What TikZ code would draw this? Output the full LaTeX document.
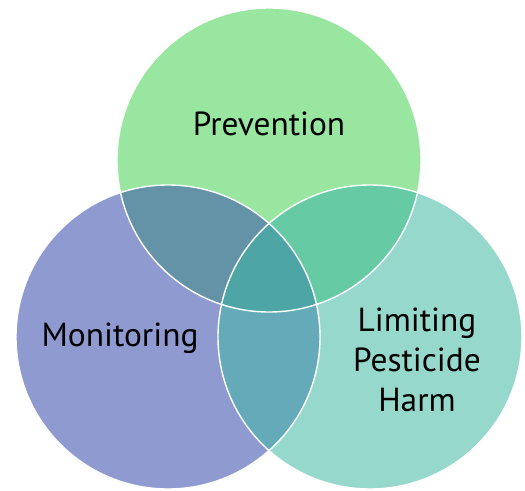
\documentclass[tikz,border=0pt]{standalone}
\usepackage{fontspec}
\setmainfont{PT Sans}

\definecolor{prevgreen}{HTML}{98E6A0}
\definecolor{monpurple}{HTML}{8F9BD0}
\definecolor{limteal}{HTML}{96D8CC}
\definecolor{pmblend}{HTML}{6492A6}
\definecolor{plblend}{HTML}{66CBA4}
\definecolor{mlblend}{HTML}{65AAB8}
\definecolor{allblend}{HTML}{4EA5A5}

\begin{document}
\begin{tikzpicture}[
    x=0.02cm,
    y=0.02cm,
    label/.style={
        inner sep=0pt,
        align=center,
        font=\fontsize{19}{22.7}\selectfont,
    },
    rim/.style={
        draw=white,
        line width=0.8pt,
    },
]
    \useasboundingbox (0, 0) rectangle (525, 491);

    \coordinate (prev) at (269, 331);
    \coordinate (mon) at (168, 154);
    \coordinate (lim) at (370, 154);

    \foreach \c/\col in {prev/prevgreen,mon/monpurple,lim/limteal} {
        \fill[\col] (\c) circle (152);
    }

    % pairwise overlaps
    \foreach \a/\b/\col in {prev/mon/pmblend,prev/lim/plblend,mon/lim/mlblend} {
        \begin{scope}
            \clip (\a) circle (152);
            \fill[\col] (\b) circle (152);
        \end{scope}
    }

    % middle part
    \begin{scope}
        \clip (prev) circle (152);
        \clip (mon) circle (152);
        \fill[allblend] (lim) circle (152);
    \end{scope}

    \foreach \c in {prev,mon,lim} {
        \draw[rim] (\c) circle (152);
    }

    \node[label] (prevtext) at (269, 367) {Prevention};
    \node[label] (montext) at (120, 153) {Monitoring};
    \node[label] (limtext) at (417, 131) {Limiting\\Pesticide\\Harm};
\end{tikzpicture}
\end{document}
